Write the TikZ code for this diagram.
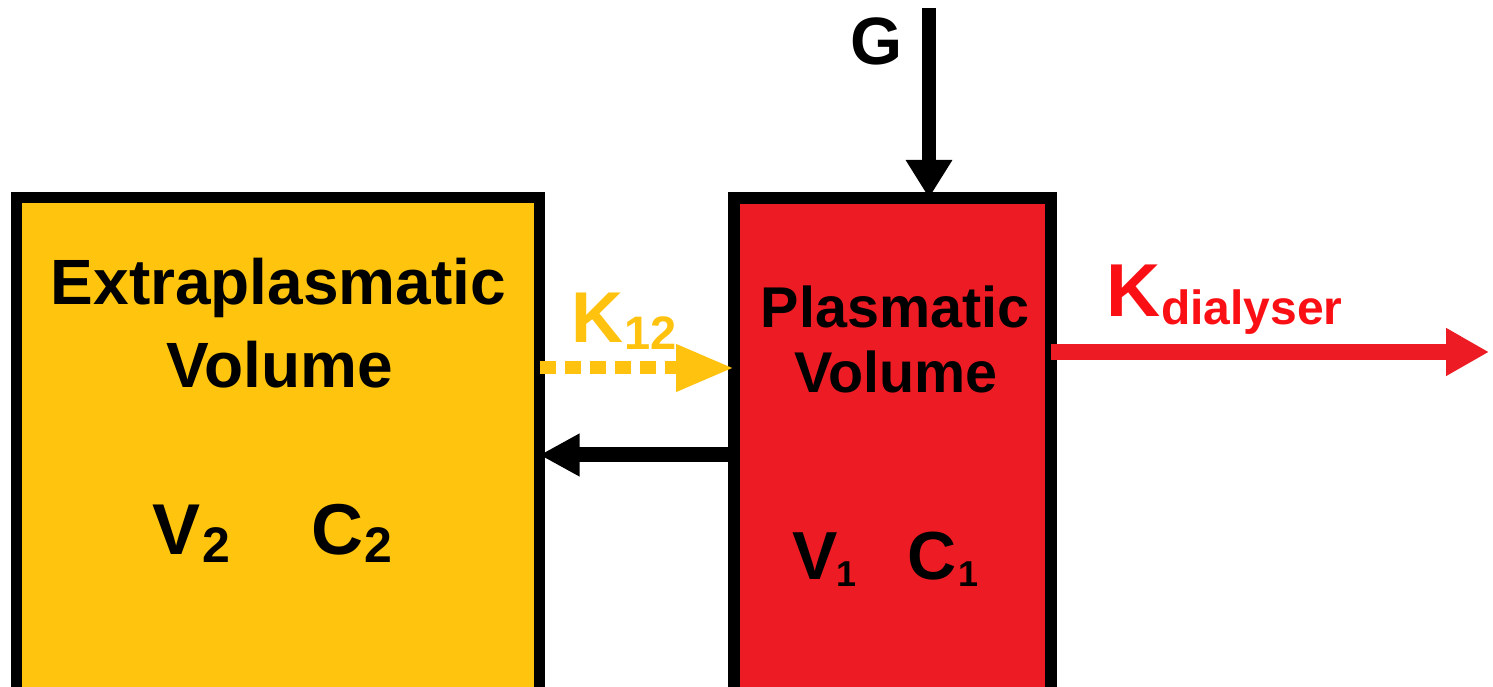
\documentclass[tikz,border=0pt]{standalone}
\usepackage{fontspec}
\setmainfont{Liberation Sans}
\usetikzlibrary{arrows.meta}
\definecolor{boxyellow}{RGB}{254,196,14}
\definecolor{ktwelve}{RGB}{255,194,14}
\definecolor{boxred}{RGB}{237,28,36}
\definecolor{kdial}{RGB}{250,16,20}
\newcommand{\fs}[1]{\fontsize{#1}{#1}\selectfont\bfseries}
\begin{document}
\begin{tikzpicture}[x=1pt,y=1pt,
  compbox/.style={draw=black,rectangle,inner sep=0pt,outer sep=0pt},
  lbl/.style={inner sep=0pt,outer sep=0pt,anchor=base},
  lblw/.style={inner sep=0pt,outer sep=0pt,anchor=base west}]
\useasboundingbox (0,0) rectangle (1493,687);
\clip (0,0) rectangle (1493,687);
\fill[white] (0,0) rectangle (1493,687);
% boxes
\node[compbox,line width=11pt,fill=boxyellow,minimum width=523pt,minimum height=502pt] (ext) at (278,238) {};
\node[compbox,line width=12pt,fill=boxred,minimum width=317pt,minimum height=502pt] (plasma) at (892.5,238) {};
% texts
\node[lbl] (t1) at (278.5,382) {\fs{64}Extraplasmatic};
\node[lbl] (t2) at (280,299) {\fs{64}Volume};
\node[lblw] (v2) at (152,132) {\fs{72}V};
\node[lblw] (v2s) at (202,124) {\fs{50}2};
\node[lblw] (c2) at (311,132) {\fs{72}C};
\node[lblw] (c2s) at (364,124) {\fs{50}2};
\node[lbl] (t3) at (895,359) {\fs{57.5}Plasmatic};
\node[lbl] (t4) at (896,294) {\fs{57.5}Volume};
\node[lblw] (v1) at (792,107) {\fs{68}V};
\node[lblw] (v1s) at (836,100) {\fs{36}1};
\node[lblw] (c1) at (907,107) {\fs{68}C};
\node[lblw] (c1s) at (958,100) {\fs{36}1};
\node[lblw,text=ktwelve] (k12) at (571,344) {\fs{72}K};
\node[lblw,text=ktwelve] (k12s) at (624,337) {\fs{47}12};
\node[lblw,text=kdial] (kd) at (1106,370) {\fs{75}K};
\node[lblw,text=kdial] (kds) at (1161,362) {\fs{48}dialyser};
\node[lblw] (g) at (850,622) {\fs{67}G};
% connectors
\coordinate (gtop) at (929,679);
\coordinate (kend) at (1489,335);
\draw[line width=14pt,-{Triangle[length=38pt,width=44pt]}] (gtop) -- (gtop |- plasma.north);
\draw[ktwelve,line width=13pt,dash pattern=on 16pt off 9pt,-{Triangle[length=58pt,width=44pt]}]
  ([yshift=81pt]ext.east) -- ([yshift=81pt]plasma.west);
\draw[black,line width=15pt,-{Triangle[length=40pt,width=40pt]}]
  ([yshift=-6pt]plasma.west) -- ([yshift=-6pt]ext.east);
\draw[boxred,line width=16pt,-{Triangle[length=43pt,width=45pt]}]
  (plasma.east |- kend) -- (kend);
\end{tikzpicture}
\end{document}
